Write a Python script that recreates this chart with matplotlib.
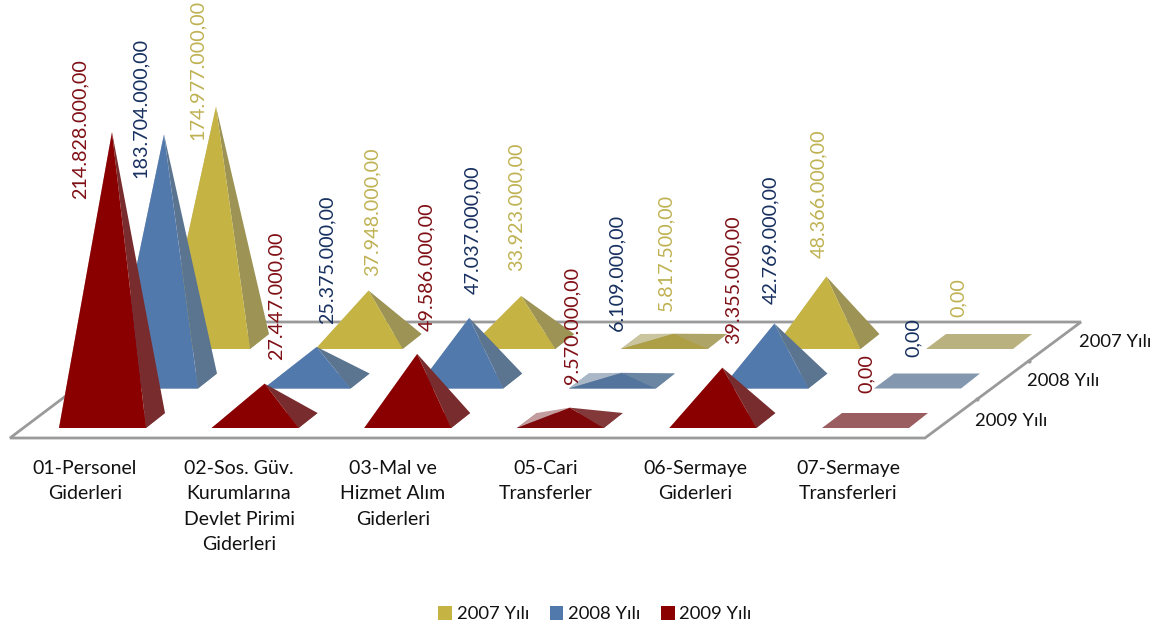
import matplotlib
matplotlib.use("Agg")
import matplotlib.pyplot as plt
from matplotlib.patches import Polygon, Patch

plt.rcParams['font.family'] = ['Lato', 'DejaVu Sans']

categories = ["01-Personel\nGiderleri", "02-Sos. Güv.\nKurumlarına\nDevlet Pirimi\nGiderleri",
              "03-Mal ve\nHizmet Alım\nGiderleri", "05-Cari\nTransferler",
              "06-Sermaye\nGiderleri", "07-Sermaye\nTransferleri"]
series_names = ["2009 Yılı", "2008 Yılı", "2007 Yılı"]
values_2009 = [214828000, 27447000, 49586000, 9570000, 39355000, 0]
values_2008 = [183704000, 25375000, 47037000, 6109000, 42769000, 0]
values_2007 = [174977000, 37948000, 33923000, 5817500, 48366000, 0]
labels_2009 = ["214.828.000,00", "27.447.000,00", "49.586.000,00", "9.570.000,00", "39.355.000,00", "0,00"]
labels_2008 = ["183.704.000,00", "25.375.000,00", "47.037.000,00", "6.109.000,00", "42.769.000,00", "0,00"]
labels_2007 = ["174.977.000,00", "37.948.000,00", "33.923.000,00", "5.817.500,00", "48.366.000,00", "0,00"]
series_values = [values_2009, values_2008, values_2007]
series_labels = [labels_2009, labels_2008, labels_2007]

# styles per row: front, right, left-back (light), flat base
front_c = ["#8A0000", "#5279AC", "#C5B344"]
right_c = ["#782C2E", "#5B7490", "#9C9355"]
light_c = ["#C39C9E", "#A9B7C6", "#CBC59F"]
flat_c = ["#9A5E60", "#8398AE", "#B9B180"]
text_c = ["#7F1015", "#17305F", "#BFB253"]
# very low pyramids catch less light in the reference
low_front_c = ["#7E0709", "#53749C", "#AD9F45"]
low_right_c = ["#83383A", "#6B86A2", "#AEA468"]
LOW_LIMIT = 12000000

# projection layout (pixels)
X0, DX, RX = 112, 152.6, 52
Y0, RY = 420.5, 39.5
PX_PER_UNIT = 1.343e-6
FL_OFF, FR_OFF, BR_OFF, BL_OFF = -53, 34, 53, -33

# data label centres (pixels), layout only
label_pos = [
    [(80, 129), (276, 296), (427, 267), (572, 325), (733, 280), (866, 374)],
    [(140, 108), (327, 260), (473, 230), (617, 272), (771, 240), (913, 338)],
    [(197, 70), (372, 212), (516, 207), (666, 252), (819, 194), (958, 298)],
]

fig = plt.figure(figsize=(11.6, 6.3), dpi=100)
ax = fig.add_axes([0, 0, 1, 1])
ax.set_xlim(0, 1160)
ax.set_ylim(630, 0)
ax.axis("off")

# floor
floor = [(10, 438), (925, 438), (1081, 322), (164, 322)]
ax.add_patch(Polygon(floor, closed=True, fc="white", ec="#9A9A9A", lw=2, zorder=1, joinstyle="miter"))
for t in (1 / 3, 2 / 3):
    ax.plot(925 + 156 * t, 438 - 116 * t, marker="o", ms=2, color="#9A9A9A", zorder=1)

z = 2
for r in (2, 1, 0):
    for c, v in enumerate(series_values[r]):
        cx = X0 + DX * c + RX * r
        cy = Y0 - RY * r
        fl = (cx + FL_OFF, cy + 7.5)
        fr = (cx + FR_OFF, cy + 7.5)
        br = (cx + BR_OFF, cy - 7.5)
        bl = (cx + BL_OFF, cy - 7.5)
        apex = (cx, cy - v * PX_PER_UNIT)
        low = v < LOW_LIMIT
        ax.add_patch(Polygon([fl, fr, br, bl], fc=flat_c[r], ec="none", zorder=z))
        if v > 0:
            ax.add_patch(Polygon([fl, bl, apex], fc=light_c[r], ec="none", zorder=z))
            ax.add_patch(Polygon([fr, br, apex], fc=(low_right_c if low else right_c)[r], ec="none", zorder=z))
            ax.add_patch(Polygon([fl, fr, apex], fc=(low_front_c if low else front_c)[r], ec="none", zorder=z))
        z += 1

# data labels
for r in range(3):
    for c, txt in enumerate(series_labels[r]):
        x, y = label_pos[r][c]
        ax.text(x, y, txt, rotation=90, ha="center", va="center", fontsize=14.2,
                color=text_c[r], zorder=100)

# category labels
cat_x = [85, 239, 393, 546, 695, 848]
for x, txt in zip(cat_x, categories):
    ax.text(x, 460, txt, ha="center", va="top", fontsize=14, color="#111111",
            linespacing=1.6, zorder=100)

# series axis labels
for r, name in enumerate(series_names):
    ax.text(975 + RX * r, 421 - 39.5 * r, name, ha="left", va="center", fontsize=13.3,
            color="#111111", zorder=100)

handles = [Patch(fc=front_c[i]) for i in (2, 1, 0)]
ax.legend(handles, [series_names[i] for i in (2, 1, 0)], ncol=3, loc="center",
          bbox_to_anchor=(595 / 1160, 1 - 614 / 630), frameon=False, fontsize=13.3,
          handlelength=0.75, handleheight=0.85, handletextpad=0.25, columnspacing=1.1,
          labelcolor="#111111", borderpad=0, borderaxespad=0)

fig.savefig("out.png", dpi=100)
